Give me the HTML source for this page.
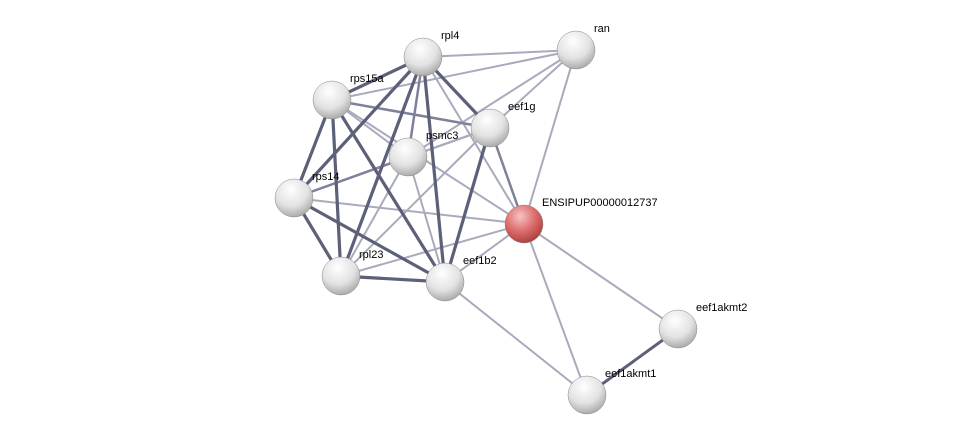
<!DOCTYPE html>
<html><head><style>body{margin:0;background:#fff}svg{display:block}text{font-family:"Liberation Sans",sans-serif;font-size:11px;fill:#000}</style></head><body>
<svg width="976" height="441" viewBox="0 0 976 441">
<defs>
<radialGradient id="g" cx="0.42" cy="0.28" r="0.8"><stop offset="0" stop-color="#fff"/><stop offset="0.55" stop-color="#e2e2e2"/><stop offset="1" stop-color="#9c9c9c"/></radialGradient>
<radialGradient id="r" cx="0.4" cy="0.3" r="0.75"><stop offset="0" stop-color="#f6c4c4"/><stop offset="0.5" stop-color="#e07070"/><stop offset="1" stop-color="#a83a3a"/></radialGradient>
</defs>
<g stroke="#a9aabb" stroke-width="2" fill="none">
<line x1="576" y1="50" x2="423" y2="57"/><line x1="576" y1="50" x2="332" y2="100"/><line x1="576" y1="50" x2="490" y2="128"/><line x1="576" y1="50" x2="524" y2="224"/><line x1="576" y1="50" x2="408" y2="157"/>
<line x1="524" y1="224" x2="423" y2="57"/><line x1="524" y1="224" x2="332" y2="100"/><line x1="524" y1="224" x2="294" y2="198"/><line x1="524" y1="224" x2="445" y2="282"/><line x1="524" y1="224" x2="341" y2="276"/><line x1="524" y1="224" x2="678" y2="329"/><line x1="524" y1="224" x2="587" y2="395"/>
<line x1="445" y1="282" x2="587" y2="395"/><line x1="408" y1="157" x2="341" y2="276"/><line x1="408" y1="157" x2="445" y2="282"/><line x1="490" y1="128" x2="341" y2="276"/><line x1="490" y1="128" x2="408" y2="157"/><line x1="332" y1="100" x2="408" y2="157"/><line x1="490" y1="128" x2="294" y2="198"/>
</g>
<g stroke="#7d8199" stroke-width="2.5" fill="none">
<line x1="423" y1="57" x2="408" y2="157"/><line x1="332" y1="100" x2="490" y2="128"/><line x1="408" y1="157" x2="294" y2="198"/><line x1="524" y1="224" x2="490" y2="128"/>
</g>
<g stroke="#5c6079" stroke-width="3.2" fill="none">
<line x1="423" y1="57" x2="332" y2="100"/><line x1="423" y1="57" x2="294" y2="198"/><line x1="423" y1="57" x2="341" y2="276"/><line x1="423" y1="57" x2="445" y2="282"/><line x1="423" y1="57" x2="490" y2="128"/>
<line x1="332" y1="100" x2="294" y2="198"/><line x1="332" y1="100" x2="341" y2="276"/><line x1="332" y1="100" x2="445" y2="282"/>
<line x1="294" y1="198" x2="341" y2="276"/><line x1="294" y1="198" x2="445" y2="282"/><line x1="341" y1="276" x2="445" y2="282"/><line x1="490" y1="128" x2="445" y2="282"/>
<line x1="678" y1="329" x2="587" y2="395" stroke-width="3"/>
</g>
<g stroke="#888" stroke-width="0.5">
<circle cx="423" cy="57" r="19" fill="url(#g)"/><circle cx="576" cy="50" r="19" fill="url(#g)"/><circle cx="332" cy="100" r="19" fill="url(#g)"/><circle cx="490" cy="128" r="19" fill="url(#g)"/><circle cx="408" cy="157" r="19" fill="url(#g)"/><circle cx="294" cy="198" r="19" fill="url(#g)"/><circle cx="524" cy="224" r="19" fill="url(#r)"/><circle cx="341" cy="276" r="19" fill="url(#g)"/><circle cx="445" cy="282" r="19" fill="url(#g)"/><circle cx="678" cy="329" r="19" fill="url(#g)"/><circle cx="587" cy="395" r="19" fill="url(#g)"/>
</g>
<text x="441" y="39">rpl4</text><text x="594" y="32">ran</text><text x="350" y="82">rps15a</text><text x="508" y="110">eef1g</text><text x="426" y="139">psmc3</text><text x="312" y="180">rps14</text><text x="542" y="206">ENSIPUP00000012737</text><text x="359" y="258">rpl23</text><text x="463" y="264">eef1b2</text><text x="696" y="311">eef1akmt2</text><text x="605" y="377">eef1akmt1</text>
</svg>
</body></html>
